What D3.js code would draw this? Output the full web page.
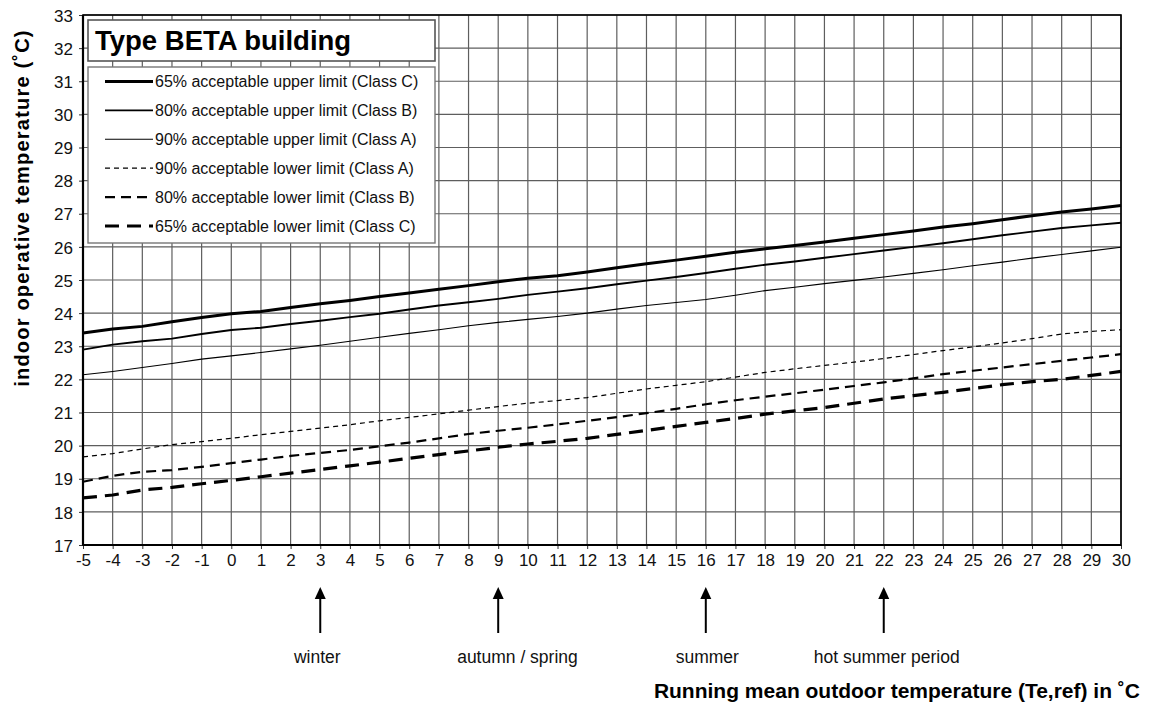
<!DOCTYPE html>
<html>
<head>
<meta charset="utf-8">
<script src="https://cdn.jsdelivr.net/npm/d3@7/dist/d3.min.js"></script>
<style>
  html, body { margin: 0; padding: 0; background: #fff; }
  svg { display: block; font-family: Arial, "Liberation Sans", Helvetica, sans-serif; }
</style>
</head>
<body>
<svg id="chart" width="1152" height="709"></svg>
<script>
// ---------- data ----------
const outdoorTemps = d3.range(-5, 31); // -5 .. 30 °C
const upperC = [23.40,23.52,23.60,23.74,23.87,23.98,24.05,24.17,24.28,24.38,24.50,24.61,24.72,24.83,24.95,25.05,25.13,25.24,25.37,25.49,25.60,25.72,25.84,25.94,26.04,26.15,26.26,26.37,26.48,26.60,26.70,26.82,26.94,27.05,27.14,27.25];
const upperB = [22.90,23.05,23.15,23.23,23.37,23.49,23.56,23.67,23.77,23.88,23.98,24.11,24.23,24.33,24.43,24.55,24.65,24.75,24.87,24.98,25.09,25.21,25.34,25.46,25.56,25.67,25.78,25.89,26.00,26.11,26.23,26.35,26.46,26.57,26.65,26.73];
const upperA = [22.14,22.24,22.36,22.48,22.61,22.71,22.81,22.92,23.03,23.15,23.27,23.39,23.50,23.62,23.72,23.81,23.90,24.00,24.12,24.23,24.32,24.41,24.54,24.68,24.78,24.89,24.99,25.09,25.20,25.31,25.43,25.54,25.66,25.77,25.88,25.99];
const lowerA = [19.66,19.76,19.90,20.03,20.12,20.22,20.33,20.43,20.53,20.63,20.75,20.85,20.96,21.07,21.18,21.28,21.36,21.45,21.58,21.71,21.82,21.93,22.07,22.21,22.32,22.42,22.52,22.63,22.75,22.87,22.98,23.10,23.23,23.37,23.45,23.50];
const lowerB = [18.91,19.09,19.21,19.26,19.36,19.47,19.58,19.69,19.78,19.87,19.98,20.09,20.22,20.35,20.45,20.54,20.64,20.75,20.86,20.98,21.11,21.25,21.37,21.48,21.58,21.69,21.80,21.91,22.03,22.16,22.26,22.36,22.46,22.56,22.66,22.76];
const lowerC = [18.42,18.51,18.66,18.74,18.85,18.95,19.06,19.17,19.28,19.39,19.50,19.62,19.73,19.84,19.95,20.05,20.13,20.22,20.34,20.46,20.58,20.70,20.82,20.95,21.05,21.15,21.28,21.41,21.51,21.61,21.72,21.84,21.93,22.00,22.12,22.24];

const seriesNames = [
  "65% acceptable upper limit (Class C)",
  "80% acceptable upper limit (Class B)",
  "90% acceptable upper limit (Class A)",
  "90% acceptable lower limit (Class A)",
  "80% acceptable lower limit (Class B)",
  "65% acceptable lower limit (Class C)"
];
const seriesValues = [upperC, upperB, upperA, lowerA, lowerB, lowerC];

const xTicks = d3.range(-5, 31);
const yTicks = d3.range(17, 34);

const seasonNames = ["winter", "autumn / spring", "summer", "hot summer period"];
const seasonArrowAt = [3, 9, 16, 22];
const seasonLabelAt = [2.9, 9.65, 16.05, 22.1];

const chartTitle = "Type BETA building";
const xTitle = "Running mean outdoor temperature (Te,ref) in \u02daC";
const yTitle = "indoor operative temperature (\u02daC)";

// ---------- styles (not data) ----------
const styles = [
  { w: 3.0, dash: null },
  { w: 1.9, dash: null },
  { w: 1.1, dash: null },
  { w: 1.2, dash: "5,4" },
  { w: 2.2, dash: "10,6" },
  { w: 3.2, dash: "14,8" }
];
const FONT = "Arial, 'Liberation Sans', Helvetica, sans-serif";

// ---------- layout ----------
const svg = d3.select("#chart");
const L = 83, R = 1121, T = 15, B = 545;
const x = d3.scaleLinear().domain([-5, 30]).range([L, R]);
const y = d3.scaleLinear().domain([17, 33]).range([B, T]);

// grid
const grid = svg.append("g");
grid.selectAll("line.v").data(xTicks).join("line")
  .attr("x1", d => x(d)).attr("x2", d => x(d))
  .attr("y1", T).attr("y2", B)
  .attr("stroke", "#5e5e5e").attr("stroke-width", 1.2);
grid.selectAll("line.h").data(yTicks).join("line")
  .attr("x1", L).attr("x2", R)
  .attr("y1", d => y(d)).attr("y2", d => y(d))
  .attr("stroke", "#5e5e5e").attr("stroke-width", 1.2);

// axes
const xAxis = d3.axisBottom(x).tickValues(xTicks).tickSize(4).tickPadding(5).tickFormat(d => String(d));
const yAxis = d3.axisLeft(y).tickValues(yTicks).tickSize(4).tickPadding(6).tickFormat(d => String(d));
const gx = svg.append("g").attr("transform", `translate(0,${B})`).call(xAxis);
const gy = svg.append("g").attr("transform", `translate(${L},0)`).call(yAxis);
[gx, gy].forEach(g => {
  g.attr("font-size", null).attr("font-family", null);
  g.select(".domain").remove();
  g.selectAll(".tick line").attr("stroke", "#333");
  g.selectAll(".tick text").attr("fill", "#111")
    .style("font-size", "17px").style("font-family", FONT);
});
gy.selectAll(".tick text").attr("dy", "0.36em");

// frame
svg.append("rect").attr("x", L).attr("y", T).attr("width", R - L).attr("height", B - T)
  .attr("fill", "none").attr("stroke", "#000").attr("stroke-width", 1.6);
svg.append("line").attr("x1", L).attr("x2", L).attr("y1", T).attr("y2", B).attr("stroke", "#000").attr("stroke-width", 2.2);
svg.append("line").attr("x1", L).attr("x2", R).attr("y1", B).attr("y2", B).attr("stroke", "#000").attr("stroke-width", 2.2);

// lines
const line = d3.line().x(d => x(d[0])).y(d => y(d[1]));
seriesValues.forEach((vals, i) => {
  svg.append("path")
    .datum(outdoorTemps.map((t, j) => [t, vals[j]]))
    .attr("d", line)
    .attr("fill", "none")
    .attr("stroke", "#000")
    .attr("stroke-width", styles[i].w)
    .attr("stroke-dasharray", styles[i].dash)
    .attr("stroke-linejoin", "round");
});

// title box
svg.append("rect").attr("x", 88).attr("y", 20).attr("width", 347).attr("height", 41)
  .attr("fill", "#fff").attr("stroke", "#555").attr("stroke-width", 1.6);
svg.append("text").attr("x", 95).attr("y", 50).text(chartTitle)
  .style("font-size", "27.5px").style("font-weight", "bold").attr("fill", "#000");

// legend box
svg.append("rect").attr("x", 88).attr("y", 67).attr("width", 347).attr("height", 176)
  .attr("fill", "#fff").attr("stroke", "#777").attr("stroke-width", 1.4);
const leg = svg.append("g");
seriesNames.forEach((name, i) => {
  const ly = 81.5 + i * 28.9;
  leg.append("line").attr("x1", 105).attr("x2", 153).attr("y1", ly).attr("y2", ly)
    .attr("stroke", "#000").attr("stroke-width", styles[i].w)
    .attr("stroke-dasharray", styles[i].dash);
  leg.append("text").attr("x", 155).attr("y", ly + 5.5).text(name)
    .style("font-size", "16px").attr("fill", "#111");
});

// season arrows
seasonNames.forEach((name, i) => {
  const ax = x(seasonArrowAt[i]);
  svg.append("line").attr("x1", ax).attr("x2", ax).attr("y1", 596).attr("y2", 633)
    .attr("stroke", "#000").attr("stroke-width", 2);
  svg.append("path").attr("d", `M${ax},587 L${ax - 5.5},599 L${ax + 5.5},599 Z`).attr("fill", "#000");
  svg.append("text").attr("x", x(seasonLabelAt[i])).attr("y", 663).attr("text-anchor", "middle")
    .text(name).style("font-size", "17.5px").attr("fill", "#111");
});

// axis titles
svg.append("text").attr("x", 1140).attr("y", 698).attr("text-anchor", "end")
  .text(xTitle).style("font-size", "21px").style("font-weight", "bold").attr("fill", "#000");
svg.append("text").attr("transform", "translate(29,208) rotate(-90)").attr("text-anchor", "middle")
  .text(yTitle).style("font-size", "20px").style("font-weight", "bold")
  .style("letter-spacing", "1.2px").attr("fill", "#000");
</script>
</body>
</html>
